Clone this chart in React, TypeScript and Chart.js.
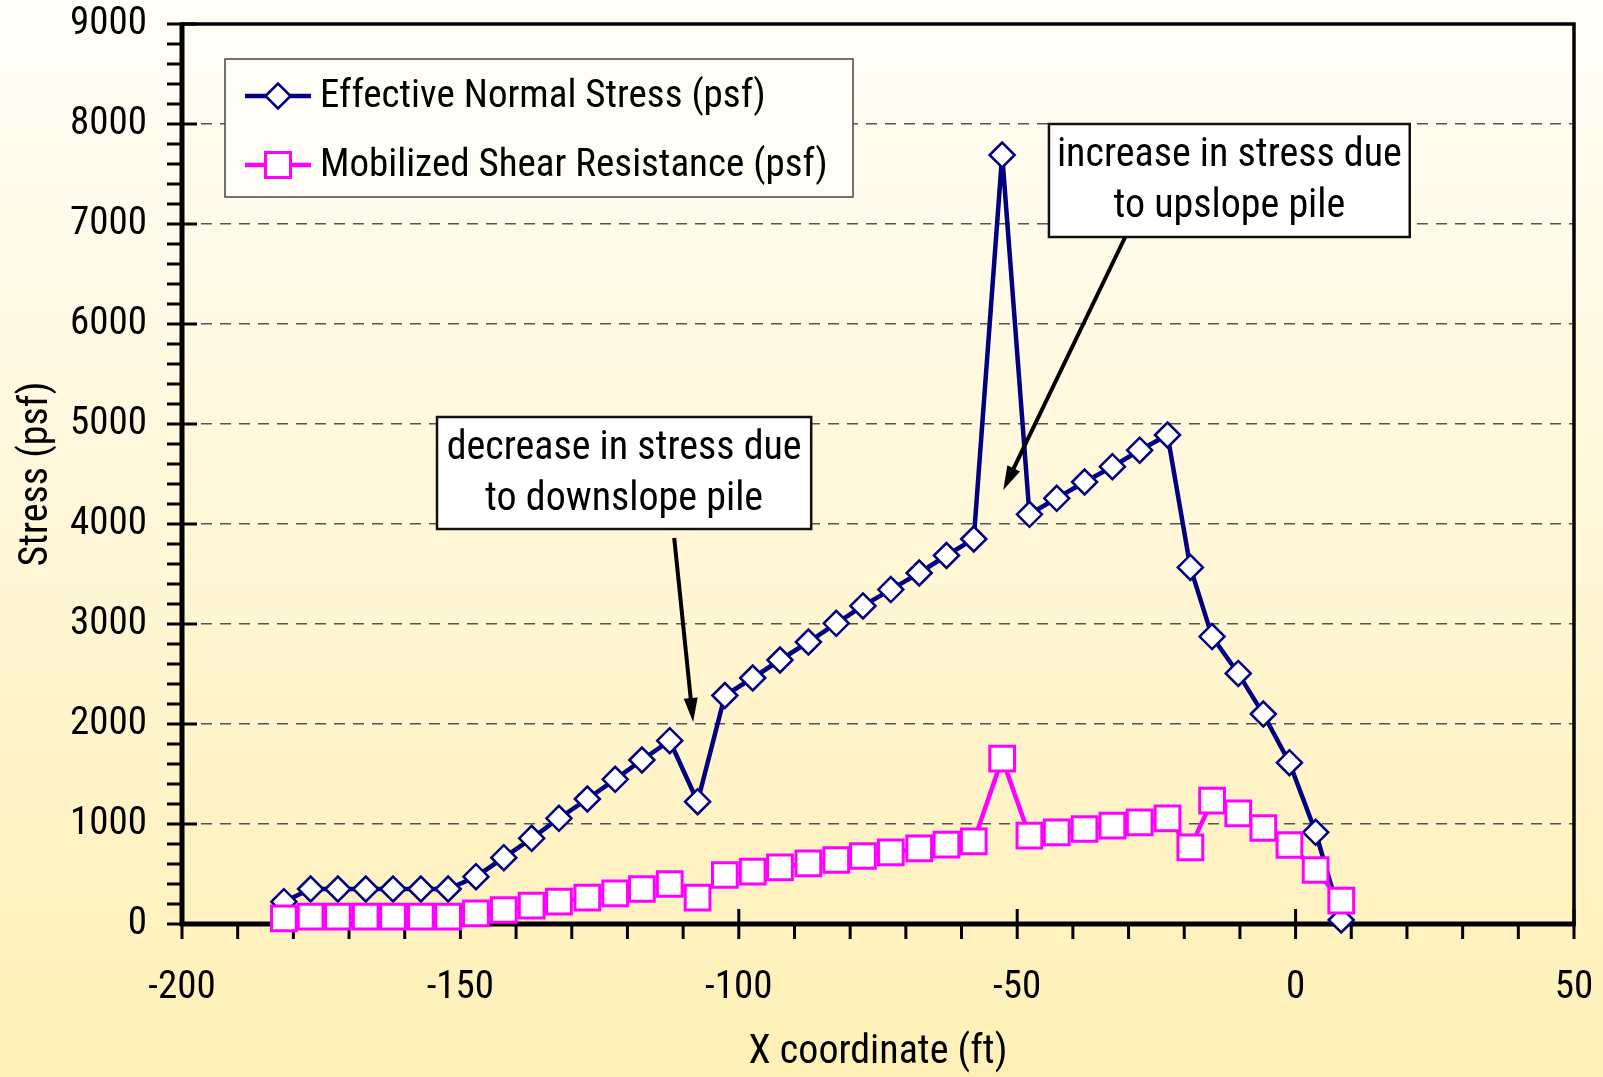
import React, { useEffect, useRef } from "react";
import { Chart, registerables } from "chart.js";

Chart.register(...registerables);

// ---------- data ----------
const xCoord = [
  -181.7, -176.9, -172, -167, -162.1, -157.1, -152.2, -147.2, -142.2, -137.2,
  -132.3, -127.2, -122.2, -117.4, -112.4, -107.4, -102.5, -97.5, -92.6, -87.5,
  -82.5, -77.7, -72.7, -67.6, -62.7, -57.8, -52.7, -47.8, -42.9, -37.9,
  -32.9, -28, -23, -18.9, -15, -10.3, -5.8, -1.1, 3.6, 8.2,
];
const normalStress = [
  223, 350, 350, 350, 350, 350, 350, 473, 663, 857,
  1057, 1250, 1447, 1640, 1833, 1223, 2285, 2460, 2640, 2820,
  3007, 3181, 3344, 3510, 3685, 3850, 7690, 4097, 4257, 4420,
  4573, 4738, 4890, 3566, 2874, 2506, 2100, 1613, 917, 40,
];
const shearResistance = [
  57, 73, 73, 73, 73, 73, 73, 107, 140, 183,
  223, 263, 307, 350, 400, 263, 490, 523, 567, 607,
  640, 680, 717, 757, 793, 827, 1653, 883, 917, 950,
  983, 1017, 1057, 767, 1233, 1107, 960, 790, 540, 233,
];
const seriesLabels = ["Effective Normal Stress (psf)", "Mobilized Shear Resistance (psf)"];
const xTickRange = { min: -200, max: 50, step: 50, minor: 10 };
const yTickRange = { min: 0, max: 9000, step: 1000, minor: 200 };
const xTitle = "X coordinate (ft)";
const yTitle = "Stress (psf)";
const annotationTexts = [
  ["decrease in stress due", "to downslope pile"],
  ["increase in stress due", "to upslope pile"],
];
// annotation placement in data coordinates
const annotationBoxes = [
  { xMin: -154.2, xMax: -87.0, yMin: 3950, yMax: 5070, ax1: -111.6, ay1: 3860, ax2: -108.2, ay2: 2020 },
  { xMin: -44.3, xMax: 20.5, yMin: 6870, yMax: 8000, ax1: -30.6, ay1: 6870, ax2: -52.5, ay2: 4340 },
];

const FONT = '"Roboto Condensed", "Liberation Sans", Arial, sans-serif';
const NAVY = "#000080";
const MAGENTA = "#FF00FF";

const bgPlugin = {
  id: "bgGradient",
  beforeDraw(chart: any) {
    const { ctx, width, height } = chart;
    const g = ctx.createLinearGradient(0, 0, 0, height);
    g.addColorStop(0, "#FFFEF8");
    g.addColorStop(1, "#FFF0B6");
    ctx.save();
    ctx.fillStyle = g;
    ctx.fillRect(0, 0, width, height);
    ctx.restore();
  },
};

const framePlugin = {
  id: "frameTicks",
  beforeDatasetsDraw(chart: any) {
    const { ctx, chartArea: a, scales } = chart;
    const x = scales.x, y = scales.y;
    ctx.save();
    ctx.strokeStyle = "#000";
    ctx.lineWidth = 3;
    for (let v = yTickRange.min; v <= yTickRange.max; v += yTickRange.minor) {
      const py = y.getPixelForValue(v);
      const major = v % yTickRange.step === 0;
      ctx.beginPath();
      ctx.moveTo(a.left - 15, py);
      ctx.lineTo(major ? a.left + 15 : a.left, py);
      ctx.stroke();
    }
    for (let v = xTickRange.min; v <= xTickRange.max; v += xTickRange.minor) {
      const px = x.getPixelForValue(v);
      const major = v % xTickRange.step === 0;
      ctx.beginPath();
      ctx.moveTo(px, a.bottom + 15);
      ctx.lineTo(px, major ? a.bottom - 15 : a.bottom);
      ctx.stroke();
    }
    // top & right frame
    ctx.lineWidth = 3.5;
    ctx.beginPath();
    ctx.moveTo(a.left, a.top);
    ctx.lineTo(a.right, a.top);
    ctx.lineTo(a.right, a.bottom);
    ctx.stroke();
    // left & bottom axes
    ctx.lineWidth = 5;
    ctx.beginPath();
    ctx.moveTo(a.left, a.top - 1.75);
    ctx.lineTo(a.left, a.bottom);
    ctx.lineTo(a.right + 1.75, a.bottom);
    ctx.stroke();
    ctx.restore();
  },
};

function drawDiamond(ctx: CanvasRenderingContext2D, cx: number, cy: number, r: number) {
  ctx.beginPath();
  ctx.moveTo(cx - r, cy);
  ctx.lineTo(cx, cy - r);
  ctx.lineTo(cx + r, cy);
  ctx.lineTo(cx, cy + r);
  ctx.closePath();
  ctx.fillStyle = "#fff";
  ctx.fill();
  ctx.strokeStyle = NAVY;
  ctx.lineWidth = 2.5;
  ctx.stroke();
}

function drawArrow(ctx: CanvasRenderingContext2D, x1: number, y1: number, x2: number, y2: number) {
  const ang = Math.atan2(y2 - y1, x2 - x1);
  const L = 24, W = 7;
  const bx = x2 - L * Math.cos(ang), by = y2 - L * Math.sin(ang);
  ctx.strokeStyle = "#000";
  ctx.fillStyle = "#000";
  ctx.lineWidth = 4;
  ctx.beginPath();
  ctx.moveTo(x1, y1);
  ctx.lineTo(bx + 2 * Math.cos(ang), by + 2 * Math.sin(ang));
  ctx.stroke();
  ctx.beginPath();
  ctx.moveTo(x2, y2);
  ctx.lineTo(bx + W * Math.sin(ang), by - W * Math.cos(ang));
  ctx.lineTo(bx - W * Math.sin(ang), by + W * Math.cos(ang));
  ctx.closePath();
  ctx.fill();
}

const overlayPlugin = {
  id: "overlay",
  afterDraw(chart: any) {
    const { ctx, chartArea: a, scales } = chart;
    const x = scales.x, y = scales.y;
    ctx.save();
    // legend
    const lx = a.left + 43, ly = a.top + 35, lw = 628, lh = 138;
    ctx.fillStyle = "#FFFEF6";
    ctx.fillRect(lx, ly, lw, lh);
    ctx.strokeStyle = "#444";
    ctx.lineWidth = 1.5;
    ctx.strokeRect(lx, ly, lw, lh);
    const rows = [ly + 37, ly + 106];
    ctx.font = `39px ${FONT}`;
    ctx.textAlign = "left";
    ctx.textBaseline = "middle";
    rows.forEach((ry, i) => {
      ctx.strokeStyle = i === 0 ? NAVY : MAGENTA;
      ctx.lineWidth = 4.5;
      ctx.beginPath();
      ctx.moveTo(lx + 20, ry);
      ctx.lineTo(lx + 86, ry);
      ctx.stroke();
      if (i === 0) {
        drawDiamond(ctx, lx + 53, ry, 12.5);
      } else {
        ctx.fillStyle = "#fff";
        ctx.fillRect(lx + 40.5, ry - 12.5, 25, 25);
        ctx.strokeStyle = MAGENTA;
        ctx.lineWidth = 3;
        ctx.strokeRect(lx + 40.5, ry - 12.5, 25, 25);
      }
      ctx.fillStyle = "#000";
      ctx.fillText(seriesLabels[i], lx + 95, ry + 1);
    });
    // annotations
    annotationBoxes.forEach((b, i) => {
      const left = x.getPixelForValue(b.xMin), right = x.getPixelForValue(b.xMax);
      const top = y.getPixelForValue(b.yMax), bottom = y.getPixelForValue(b.yMin);
      ctx.fillStyle = "#fff";
      ctx.fillRect(left, top, right - left, bottom - top);
      ctx.strokeStyle = "#111";
      ctx.lineWidth = 2.5;
      ctx.strokeRect(left, top, right - left, bottom - top);
      ctx.fillStyle = "#000";
      ctx.font = `40px ${FONT}`;
      ctx.textAlign = "center";
      ctx.textBaseline = "alphabetic";
      const cx = (left + right) / 2;
      ctx.fillText(annotationTexts[i][0], cx, top + 42);
      ctx.fillText(annotationTexts[i][1], cx, top + 93);
      drawArrow(ctx, x.getPixelForValue(b.ax1), y.getPixelForValue(b.ay1), x.getPixelForValue(b.ax2), y.getPixelForValue(b.ay2));
    });
    ctx.restore();
  },
};

export default function App() {
  const ref = useRef<HTMLCanvasElement>(null);
  useEffect(() => {
    document.body.style.margin = "0";
    const normalPts = xCoord.map((v, i) => ({ x: v, y: normalStress[i] }));
    const shearPts = xCoord.map((v, i) => ({ x: v, y: shearResistance[i] }));
    const chart = new Chart(ref.current as HTMLCanvasElement, {
      type: "scatter",
      data: {
        datasets: [
          {
            label: seriesLabels[0],
            data: normalPts,
            showLine: true,
            borderColor: NAVY,
            borderWidth: 4.5,
            pointStyle: "rectRot",
            pointRadius: 12.5,
            pointBackgroundColor: "#fff",
            pointBorderColor: NAVY,
            pointBorderWidth: 2.5,
            clip: false,
            order: 1,
          } as any,
          {
            label: seriesLabels[1],
            data: shearPts,
            showLine: true,
            borderColor: MAGENTA,
            borderWidth: 4.5,
            pointStyle: "rect",
            pointRadius: 17.5,
            pointBackgroundColor: "#fff",
            pointBorderColor: MAGENTA,
            pointBorderWidth: 3,
            clip: false,
            order: 0,
          } as any,
        ],
      },
      options: {
        responsive: false,
        animation: false,
        devicePixelRatio: 1,
        layout: { padding: { left: 0, top: 24, right: 29, bottom: 0 } },
        plugins: { legend: { display: false }, tooltip: { enabled: false } },
        scales: {
          x: {
            type: "linear",
            position: "bottom",
            min: xTickRange.min,
            max: xTickRange.max,
            afterFit: (s: any) => { s.height = 153; s.paddingLeft = 0; s.paddingRight = 0; },
            afterBuildTicks: (s: any) => {
              const t = [];
              for (let v = xTickRange.min; v <= xTickRange.max; v += xTickRange.step) t.push({ value: v });
              s.ticks = t;
            },
            ticks: {
              font: { family: FONT, size: 39 },
              color: "#000",
              padding: 41,
              maxRotation: 0,
              autoSkip: false,
              callback: (v: any) => String(v),
            },
            grid: { display: false, drawTicks: false },
            border: { display: false },
            title: {
              display: true,
              text: xTitle,
              color: "#000",
              font: { family: FONT, size: 40 },
              padding: { top: 0, bottom: 0 },
            },
          },
          y: {
            type: "linear",
            min: yTickRange.min,
            max: yTickRange.max,
            afterFit: (s: any) => { s.width = 182; s.paddingTop = 0; s.paddingBottom = 0; },
            afterBuildTicks: (s: any) => {
              const t = [];
              for (let v = yTickRange.min; v <= yTickRange.max; v += yTickRange.step) t.push({ value: v });
              s.ticks = t;
            },
            ticks: {
              font: { family: FONT, size: 39 },
              color: "#000",
              padding: 35,
              autoSkip: false,
              callback: (v: any) => String(v),
            },
            grid: {
              drawTicks: false,
              lineWidth: 1.5,
              color: (c: any) => (c.tick && (c.tick.value === 0 || c.tick.value === 9000) ? "rgba(0,0,0,0)" : "#555"),
            },
            border: { display: false, dash: [11, 8] },
            title: {
              display: true,
              text: yTitle,
              color: "#000",
              font: { family: FONT, size: 40 },
              padding: { top: 13, bottom: 0 },
            },
          },
        },
      },
      plugins: [bgPlugin, framePlugin, overlayPlugin],
    } as any);
    return () => chart.destroy();
  }, []);
  return (
    <div style={{ width: 1603, height: 1077 }}>
      <canvas ref={ref} width={1603} height={1077} style={{ display: "block", width: 1603, height: 1077 }} />
    </div>
  );
}
